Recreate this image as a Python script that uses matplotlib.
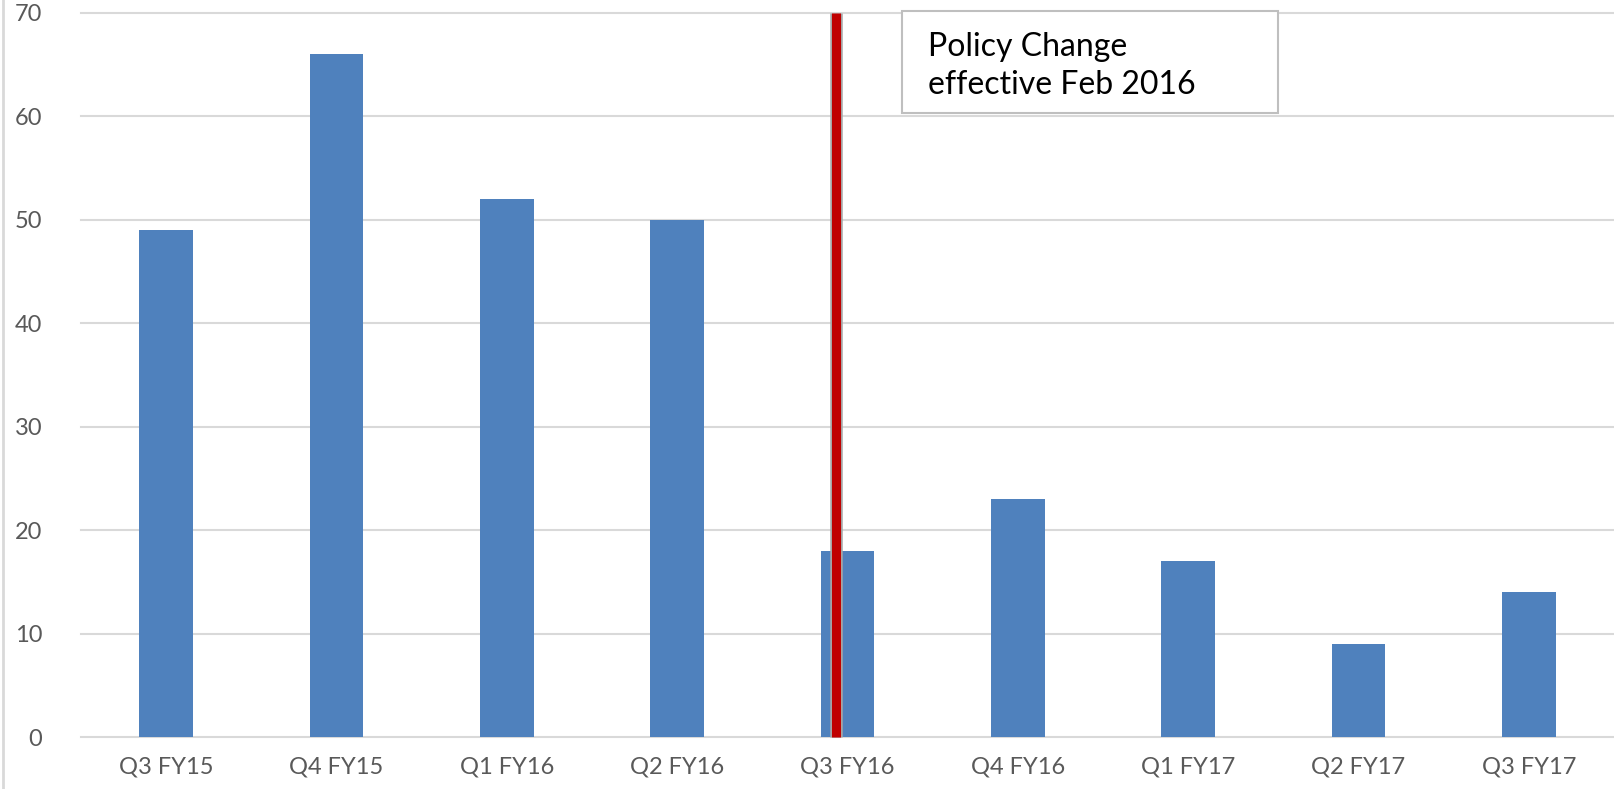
import matplotlib
matplotlib.use("Agg")
import matplotlib.pyplot as plt
from matplotlib.patches import Rectangle
from matplotlib.lines import Line2D

# quarters and counts
quarters = ["Q3 FY15", "Q4 FY15", "Q1 FY16", "Q2 FY16", "Q3 FY16",
            "Q4 FY16", "Q1 FY17", "Q2 FY17", "Q3 FY17"]
counts = [49, 66, 52, 50, 18, 23, 17, 9, 14]
y_ticks = [0, 10, 20, 30, 40, 50, 60, 70]

# policy marker sits just left of the Q3 FY16 centre
policy_pos = 3.93
policy_top = 70
policy_text = "Policy Change\neffective Feb 2016"

plt.rcParams["font.family"] = ["Lato", "DejaVu Sans"]

fig = plt.figure(figsize=(16.14, 7.89), dpi=100)
ax = fig.add_axes([81 / 1614, 1 - 737 / 789, 1 - 81 / 1614, (737 - 12.7) / 789])

x = range(len(quarters))
ax.bar(x, counts, width=0.317, color="#4F81BD", zorder=2)

ax.set_xlim(-0.5, len(quarters) - 0.5)
ax.set_ylim(0, 70)
ax.set_yticks(y_ticks)
ax.set_xticks(list(x))
ax.set_xticklabels(quarters)

for v in y_ticks:
    ax.axhline(v, color="#d9d9d9", lw=1.5, zorder=1, clip_on=False)

for s in ax.spines.values():
    s.set_visible(False)
ax.tick_params(axis="both", length=0, labelsize=17, colors="#595959")
ax.tick_params(axis="y", pad=28)
ax.tick_params(axis="x", pad=14)

# red policy line with grey outline
ax.plot([policy_pos, policy_pos], [0, policy_top], color="#a6a6a6", lw=9,
        solid_capstyle="butt", zorder=3, clip_on=False)
ax.plot([policy_pos, policy_pos], [0, policy_top], color="#C00000", lw=6.5,
        solid_capstyle="butt", zorder=4, clip_on=False)

# annotation box
bx0 = (901.7 - 81) / 1533
bx1 = (1277.7 - 81) / 1533
by0 = (737 - 113) / 724
by1 = (737 - 11.7) / 724
ax.add_patch(Rectangle((bx0, by0), bx1 - bx0, by1 - by0, transform=ax.transAxes,
                       facecolor="white", edgecolor="#bfbfbf", lw=1.5,
                       zorder=5, clip_on=False))
ax.text((928 - 81) / 1533, (737 - 66) / 724, policy_text, transform=ax.transAxes,
        fontsize=23, color="black", va="center", ha="left",
        linespacing=1.33, zorder=6)

# thin grey border on the left edge of the picture
fig.add_artist(Line2D([2.5 / 1614, 2.5 / 1614], [0, 1], color="#d9d9d9", lw=2,
                      transform=fig.transFigure))

fig.savefig("out.png", dpi=100)
